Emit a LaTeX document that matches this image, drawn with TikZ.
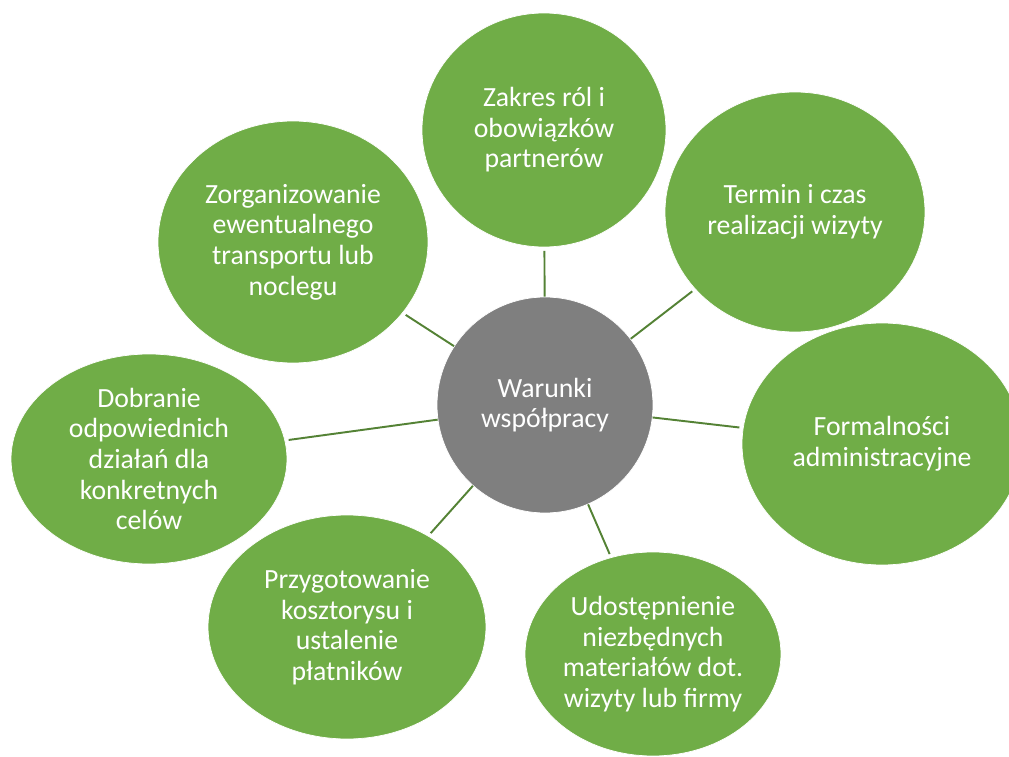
\documentclass[tikz,border=0pt]{standalone}
\usepackage{fontspec}
\setmainfont{Carlito}
\usepackage{xcolor}
\usetikzlibrary{shapes.geometric}

\definecolor{leaf}{HTML}{70AD47}
\definecolor{stem}{HTML}{548235}
\definecolor{hubgray}{HTML}{7F7F7F}

\begin{document}
\begin{tikzpicture}[
    x = 0.02cm, y = -0.02cm, % one unit = one pixel of the sketch
    semithick, % line style
    shorten > = 2pt, % keep spokes off the ellipses
    shorten < = 0pt
]
\tikzstyle{topic}=[
    ellipse,
    fill = leaf,
    draw = white,
    thin,
    text = white,
    align = center,
    inner sep = 0pt,
    font = \fontsize{15.8}{17.4}\selectfont
]
\tikzstyle{spoke}=[
    draw = stem,
    line width = 1.1pt
]

\useasboundingbox (0,0) rectangle (1009,757);

\node[topic, circle, fill=hubgray, minimum size=4.32cm] (hub) at (545,405) {Warunki\\współpracy};

\node[topic, minimum width=4.88cm, minimum height=4.68cm] (zakres) at (544,130) {Zakres ról i\\obowiązków\\partnerów};
\node[topic, minimum width=5.2cm, minimum height=4.8cm] (termin) at (795,212) {Termin i czas\\realizacji wizyty};
\node[topic, minimum width=5.6cm, minimum height=4.84cm] (formal) at (882,444) {Formalności\\administracyjne};
\node[topic, minimum width=5.12cm, minimum height=4.08cm] (udost) at (653,654) {Udostępnienie\\niezbędnych\\materiałów dot.\\wizyty lub firmy};
\node[topic, minimum width=5.56cm, minimum height=4.48cm] (przyg) at (347,627) {Przygotowanie\\kosztorysu i\\ustalenie\\płatników};
\node[topic, minimum width=5.52cm, minimum height=4.2cm] (dobr) at (149,459) {Dobranie\\odpowiednich\\działań dla\\konkretnych\\celów};
\node[topic, minimum width=5.4cm, minimum height=4.84cm] (zorg) at (293,242) {Zorganizowanie\\ewentualnego\\transportu lub\\noclegu};

\path[spoke] (hub) edge (zakres);
\path[spoke] (hub) edge (termin);
\path[spoke] (hub) edge (formal);
\path[spoke] (hub) edge (udost);
\path[spoke] (hub) edge (przyg);
\path[spoke] (hub) edge (dobr);
\path[spoke] (hub) edge (zorg);

\end{tikzpicture}
\end{document}
